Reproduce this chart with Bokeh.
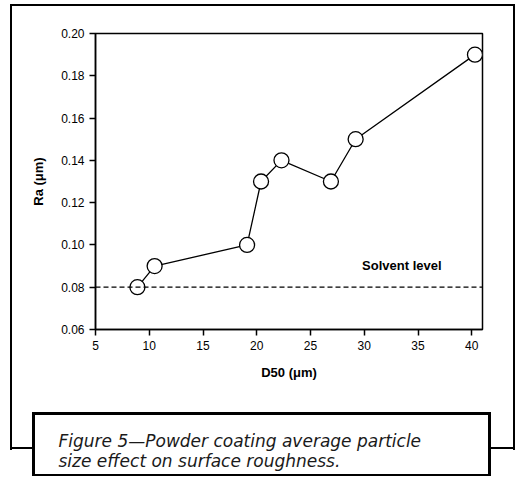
from bokeh.plotting import figure
from bokeh.models import Range1d, FixedTicker, PrintfTickFormatter, Span, Label, Title, ColumnDataSource
from bokeh.embed import file_html
from bokeh.resources import INLINE

# Data
d50_um = [8.9, 10.5, 19.1, 20.4, 22.3, 26.9, 29.2, 40.3]
ra_um = [0.080, 0.090, 0.100, 0.130, 0.140, 0.130, 0.150, 0.190]
solvent_level = 0.08
x_ticks = [5, 10, 15, 20, 25, 30, 35, 40]
y_ticks = [0.06, 0.08, 0.10, 0.12, 0.14, 0.16, 0.18, 0.20]
caption_1 = "Figure 5\u2014Powder coating average particle"
caption_2 = "size effect on surface roughness."


def bar(x, y, w, h, color="#000"):
    return f"linear-gradient({color},{color}) {x}px {y}px / {w}px {h}px no-repeat"

# decorative frames (page background behind the transparent canvas border)
layers = [
    # caption box border
    bar(32, 412, 459, 3), bar(32, 412, 3, 64), bar(488, 412, 3, 64), bar(32, 474, 459, 2),
    # caption box fill
    bar(32, 412, 459, 64, "#fff"),
    # outer frame
    bar(10, 4, 505, 2), bar(10, 4, 2, 446), bar(513, 4, 2, 446), bar(10, 447, 505, 2),
]

p = figure(width=516, height=478, output_backend="svg", toolbar_location=None,
           x_range=Range1d(5, 41), y_range=Range1d(0.06, 0.20),
           min_border_left=95, min_border_right=34, min_border_top=33, min_border_bottom=149)
p.styles = {"background": ", ".join(layers)}
p.background_fill_color = "white"
p.border_fill_color = None
p.grid.visible = False
p.outline_line_color = "black"
p.outline_line_width = 1.5

for ax in (p.xaxis[0], p.yaxis[0]):
    ax.axis_line_color = "black"
    ax.axis_line_width = 1.5
    ax.major_tick_line_color = "black"
    ax.major_tick_line_width = 1.5
    ax.major_tick_out = 6
    ax.major_tick_in = 0
    ax.minor_tick_line_color = None
    ax.major_label_text_font = "Liberation Sans"
    ax.major_label_text_font_size = "12px"
    ax.major_label_text_color = "black"
    ax.axis_label_text_font = "Liberation Sans"
    ax.axis_label_text_font_style = "bold"
    ax.axis_label_text_font_size = "13px"
    ax.axis_label_text_color = "black"

p.xaxis.ticker = FixedTicker(ticks=x_ticks)
p.yaxis.ticker = FixedTicker(ticks=y_ticks)
p.yaxis.formatter = PrintfTickFormatter(format="%.2f")
p.xaxis.axis_label = "D50 (\u03bcm)"
p.yaxis.axis_label = "Ra (\u03bcm)"
p.xaxis.major_label_standoff = 5
p.yaxis.major_label_standoff = 5
p.xaxis.axis_label_standoff = 12
p.yaxis.axis_label_standoff = 12

p.add_layout(Span(location=solvent_level, dimension="width", line_color="black",
                  line_width=1.2, line_dash="5 3"))

src = ColumnDataSource(dict(x=d50_um, y=ra_um))
p.line("x", "y", source=src, line_color="black", line_width=1.3)
p.scatter("x", "y", source=src, size=15, marker="circle", fill_color="white",
          line_color="black", line_width=1.3)

p.add_layout(Label(x=29.8, y=0.0865, text="Solvent level", text_font="Liberation Sans",
                   text_font_style="bold", text_font_size="13px", text_color="black"))

# caption as a title in the bottom panel (two blank leading lines push it into the box)
cap = Title(text="\n\n" + caption_1 + "\n" + caption_2, align="left", offset=-37, standoff=12,
            text_font="DejaVu Sans", text_font_style="italic", text_font_size="17px",
            text_line_height=1.015, text_color="#1a1a1a", vertical_align="bottom")
p.add_layout(cap, "below")

open("out.html", "w").write(file_html(p, INLINE))
